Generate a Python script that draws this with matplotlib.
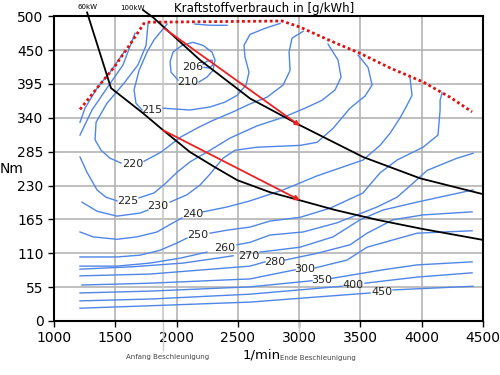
import numpy as np
import matplotlib.pyplot as plt

# power hyperbolas (rpm, Nm)
kw60_rpm = [1270, 1465, 1725, 1890, 2110, 2315, 2495, 2765, 3005, 3295, 3635, 4005, 4500]
kw60_nm = [506, 382, 341, 313, 277, 252, 231, 211, 198, 182, 166, 151, 133]
kw100_rpm = [1726, 1808, 2191, 2599, 3007, 3521, 3987, 4500]
kw100_nm = [510, 498, 428, 365, 321, 269, 234, 208]

# full load curve
vl_rpm = [1212, 1351, 1490, 1628, 1734, 1760, 2860, 3007, 3250, 3497, 3742, 4011, 4231, 4411]
vl_nm = [347, 382, 416, 456, 488, 490, 492, 482, 460, 439, 415, 392, 367, 343]

# acceleration arrows
arrows = [((1898, 480), (3007, 320)), ((1889, 313), (3007, 198))]

# iso-consumption lines g/kWh, each as list of segments (rpm, Nm)
iso_206 = [([2216, 2248, 2289, 2297, 2265, 2224], [421, 426, 428, 420, 415, 416])]
iso_210 = [([2012, 1955, 1947, 1971, 2044, 2134, 2216, 2289, 2314, 2297, 2248, 2183],
            [395, 408, 425, 441, 452, 457, 452, 441, 428, 411, 400, 392]),
           ([2150, 2273, 2412], [487, 485, 485])]
iso_215 = [([1718, 1669, 1653, 1694, 1759, 1816, 1881, 1922], [346, 357, 379, 411, 441, 461, 477, 487]),
           ([1889, 2110, 2273, 2395, 2493, 2567, 2591, 2558, 2550, 2599, 2722, 2844],
            [349, 346, 351, 359, 370, 387, 408, 433, 452, 470, 480, 488])]
iso_220 = [([1767, 1751, 1685, 1571, 1432, 1343, 1335, 1384, 1457, 1547],
            [487, 452, 420, 390, 357, 326, 297, 280, 267, 259]),
           ([1734, 1873, 2036, 2183, 2297, 2461, 2599, 2738, 2869, 2926, 2918, 2942, 3032],
            [262, 277, 302, 318, 329, 343, 356, 367, 387, 411, 441, 464, 475])]
iso_225 = [([1212, 1269, 1351, 1424, 1514], [269, 244, 215, 203, 197]),
           ([1694, 1816, 1906, 2004, 2110, 2273, 2436, 2656, 2869, 3048, 3187, 3293, 3342, 3317, 3236],
            [202, 210, 225, 244, 261, 280, 300, 320, 334, 349, 362, 379, 400, 428, 454])]
iso_230 = [([1228, 1351, 1514, 1702, 1767], [195, 180, 172, 177, 182]),
           ([1947, 2085, 2191, 2273, 2379, 2477, 2656, 3007, 3146, 3277, 3415, 3538, 3595, 3562, 3481],
            [195, 207, 223, 241, 267, 280, 285, 288, 293, 316, 349, 369, 387, 416, 436])]
iso_240 = [([1212, 1318, 1514, 1677, 1840, 1971, 2044], [146, 138, 134, 138, 146, 161, 169]),
           ([2216, 2412, 2599, 2869, 3146, 3334, 3521, 3660, 3742, 3823, 3880, 3921, 3905],
            [179, 187, 197, 215, 238, 251, 264, 288, 308, 333, 354, 370, 398])]
iso_250 = [([1212, 1514, 1702, 1865, 2004, 2085], [105, 105, 108, 116, 128, 136]),
           ([2273, 2412, 2599, 2763, 3007, 3252, 3521, 3660, 3799, 4011, 4133, 4150, 4150, 4166],
            [144, 149, 154, 164, 170, 185, 210, 243, 264, 285, 305, 346, 362, 374])]
iso_260 = [([1212, 1514, 1783, 2028, 2248], [90, 90, 95, 103, 113]),
           ([2493, 2599, 2763, 3032, 3309, 3636, 3799, 3929, 4044, 4288, 4419],
            [125, 129, 141, 146, 161, 187, 203, 226, 247, 267, 275])]
iso_270 = [([1212, 1645, 2053, 2330, 2461], [85, 89, 95, 103, 107]),
           ([2681, 3007, 3277, 3497, 3685, 3962, 4419], [113, 121, 138, 166, 182, 195, 215])]
iso_280 = [([1212, 1783, 2599, 2722], [74, 77, 90, 97]),
           ([2885, 3146, 3415, 3554, 3766, 4011, 4411], [100, 111, 125, 144, 166, 174, 179])]
iso_300 = [([1228, 1783, 2599, 2967], [59, 62, 69, 84]),
           ([3130, 3391, 3554, 3766, 3962, 4411], [87, 100, 121, 133, 144, 148])]
iso_350 = [([1212, 1783, 2599, 3105], [46, 49, 56, 66]),
           ([3268, 3685, 3962, 4411], [70, 84, 92, 97])]
iso_400 = [([1212, 1783, 2599, 3350], [33, 36, 44, 57]),
           ([3538, 3962, 4411], [62, 72, 79])]
iso_450 = [([1212, 1783, 2599, 3579], [21, 25, 31, 46]),
           ([3766, 4419], [51, 57])]
iso_extra = [([1571, 1457, 1351, 1253, 1212], [441, 408, 382, 349, 326]),
             ([1661, 1563, 1432, 1310, 1212], [472, 420, 382, 346, 305])]

iso_lines = [iso_206, iso_210, iso_215, iso_220, iso_225, iso_230, iso_240, iso_250,
             iso_260, iso_270, iso_280, iso_300, iso_350, iso_400, iso_450, iso_extra]

label_vals = ['206', '210', '215', '220', '225', '230', '240', '250', '260', '270', '280', '300', '350', '400', '450']
label_rpm = [2134, 2093, 1800, 1645, 1604, 1849, 2134, 2175, 2395, 2591, 2803, 3048, 3187, 3440, 3676]
label_nm = [416, 392, 346, 257, 197, 188, 175, 141, 120, 107, 97, 85, 67, 59, 48]

ytick_labels = ['0', '55', '110', '165', '230', '285', '340', '395', '450', '500']

fig = plt.figure(figsize=(5, 3.75), dpi=100)
ax = fig.add_axes([0.108, 0.144, 0.858, 0.813])

blue = '#4f86e8'
for iso in iso_lines:
    for xs, ys in iso:
        ax.plot(xs, ys, color=blue, lw=1, zorder=2)

for t, x, y in zip(label_vals, label_rpm, label_nm):
    ax.text(x, y, t, fontsize=8, ha='center', va='center', color='#222222', zorder=4)

ax.plot(vl_rpm, vl_nm, color='#dd1111', lw=2, ls=(0, (1, 1)), zorder=3)
ax.plot(kw60_rpm, kw60_nm, color='black', lw=1.3, zorder=3, clip_on=False)
ax.plot(kw100_rpm, kw100_nm, color='black', lw=1.3, zorder=3, clip_on=False)

for (x0, y0), (x1, y1) in arrows:
    ax.annotate('', xy=(x1, y1), xytext=(x0, y0),
                arrowprops=dict(arrowstyle='-|>', color='#ee2222', lw=1.3,
                                mutation_scale=7, shrinkA=0, shrinkB=0))

ax.set_xlim(1000, 4500)
ax.set_ylim(0, 500)
ax.set_xticks(range(1000, 4501, 500))
ax.set_yticks(np.linspace(0, 500, 10))
ax.set_yticklabels(ytick_labels)
ax.tick_params(labelsize=10, length=4, width=1, direction='out')
ax.grid(color='#b4b4b4', lw=1.2, zorder=0)
ax.set_axisbelow(True)
for s in ax.spines.values():
    s.set_linewidth(1.5)

# marker lines for start/end of acceleration
ax.plot([1890, 1890], [0, 500], color='#c8c8c8', lw=1.2, zorder=1)
ax.plot([1890, 1890], [0, -48], color='#c8c8c8', lw=1, clip_on=False)
ax.plot([3000, 3000], [0, -32], color='#c8c8c8', lw=1, clip_on=False)

ax.text(0.49, 1.026, 'Kraftstoffverbrauch in [g/kWh]', transform=ax.transAxes,
        ha='center', va='center', fontsize=8.5)
ax.text(0.077, 1.03, '60kW', transform=ax.transAxes, ha='center', va='center', fontsize=5)
ax.text(0.184, 1.026, '100kW', transform=ax.transAxes, ha='center', va='center', fontsize=5)
ax.text(-0.098, 0.5, 'Nm', transform=ax.transAxes, ha='center', va='center', fontsize=10)
ax.text(0.485, -0.111, '1/min', transform=ax.transAxes, ha='center', va='center', fontsize=9.5)
trans = ax.get_xaxis_transform()
ax.text(1930, -0.118, 'Anfang Beschleunigung', transform=trans, ha='center', va='center',
        fontsize=5, color='#444444')
ax.text(3154, -0.121, 'Ende Beschleunigung', transform=trans, ha='center', va='center',
        fontsize=5, color='#444444')

fig.savefig('out.png', dpi=100)
